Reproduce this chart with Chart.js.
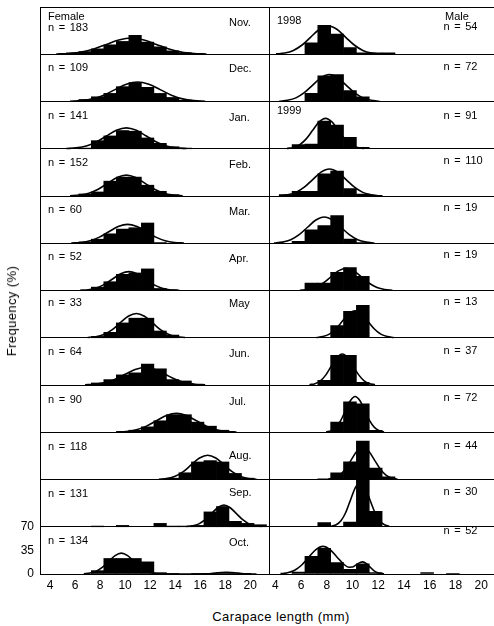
<!DOCTYPE html>
<html><head><meta charset="utf-8">
<script src="https://cdn.jsdelivr.net/npm/chart.js@4.4.1/dist/chart.umd.min.js"></script>
<style>
html,body{margin:0;padding:0;background:#fff;}
#wrap{position:relative;width:494px;height:626px;overflow:hidden;font-family:"Liberation Sans",Arial,sans-serif;color:#000;}
canvas{position:absolute;top:0;}
.lb{position:absolute;font-size:11px;line-height:12px;white-space:nowrap;word-spacing:1.5px;}
.tt{position:absolute;font-size:13px;line-height:14px;white-space:nowrap;letter-spacing:0.4px;}
</style></head><body>
<div id="wrap">
<canvas id="cf" width="270" height="600" style="left:0px"></canvas>
<canvas id="cm" width="226" height="600" style="left:268px"></canvas>
</div>
<script>
// ---- shared axes ----
const binCenters = [4.8,5.8,6.8,7.8,8.8,9.8,10.8,11.8,12.8,13.8,14.8,15.8,16.8,17.8,18.8,19.8,20.8];
const xTicks = [4,6,8,10,12,14,16,18,20];
const yTicks = [0,35,70];
const months = ['Nov.','Dec.','Jan.','Feb.','Mar.','Apr.','May','Jun.','Jul.','Aug.','Sep.','Oct.'];
const femaleN = [183,109,141,152,60,52,33,64,90,118,131,134];
const maleN = [54,72,91,110,19,19,13,37,72,44,30,52];

// ---- female histograms (% per 1-mm class, centres = binCenters) ----
const fNov = [0,2,4,8,14,19,28,18,11,5,2,0,0,0,0,0,0];
const fDec = [0,0,3,7,12,22,28,21,12,6,2,0,0,0,0,0,0];
const fJan = [0,0,1,12,19,27,26,16,8,3,1,0,0,0,0,0,0];
const fFeb = [0,0,3,6,22,28,28,16,7,2,0,0,0,0,0,0,0];
const fMar = [0,0,2,6,14,21,23,30,1,0,0,0,0,0,0,0,0];
const fApr = [0,0,0,5,13,24,26,32,3,1,0,0,0,0,0,0,0];
const fMay = [0,0,0,2,8,22,29,29,10,4,0,0,0,0,0,0,0];
const fJun = [0,0,0,3,8,15,18,31,24,8,6,1,0,0,0,0,0];
const fJul = [0,0,0,0,0,1,3,8,17,26,26,15,9,3,0,0,0];
const fAug = [0,0,0,0,0,0,0,0,0,2,10,26,28,26,9,2,0];
const fSep = [0,0,0,1,0,2,0,0,5,1,1,2,22,30,8,5,3];
const fOct = [0,0,0,5,23,23,23,18,2,1,0,1,1,2,1,0,0];

// ---- male histograms ----
const mNov = [0,0,17,43,30,10,2,2,2,0,0,0,0,0,0,0,0];
const mDec = [0,0,12,38,40,16,7,0,0,0,0,0,0,0,0,0,0];
const mJan = [0,6,7,41,35,17,2,0,0,0,0,0,0,0,0,0,0];
const mFeb = [2,7,7,33,37,11,3,1,0,0,0,0,0,0,0,0,0];
const mMar = [0,3,20,26,41,6,1,0,0,0,0,0,0,0,0,0,0];
const mApr = [0,0,11,11,27,34,21,0,0,0,0,0,0,0,0,0,0];
const mMay = [0,0,0,0,18,39,48,0,0,0,0,0,0,0,0,0,0];
const mJun = [0,0,0,7,44,44,4,0,0,0,0,0,0,0,0,0,0];
const mJul = [0,0,0,0,15,45,42,3,0,0,0,0,0,0,0,0,0];
const mAug = [0,0,0,1,10,26,57,17,4,0,0,0,0,0,0,0,0];
const mSep = [0,0,0,6,0,7,70,23,0,0,0,0,0,0,0,0,0];
const mOct = [0,3,26,38,17,7,15,2,0,0,0,2,0,1,0,0,0];

// ---- fitted curves: [length, %] ----
const fNovC = [[4.5,0.3],[5.5,1.1],[6.5,3.2],[7.5,7.8],[8.5,14.6],[9.5,21.2],[10.5,24],[11.5,21.2],[12.5,14.6],[13.5,7.8],[14.5,3.2],[15.5,1.1],[16.5,0.3]];
const fDecC = [[5.6,0.3],[6.5,1.3],[7.4,3.9],[8.3,9.4],[9.2,17.6],[10.1,25.6],[11,29],[11.9,25.6],[12.8,17.6],[13.7,9.4],[14.6,3.9],[15.5,1.3],[16.4,0.3]];
const fJanC = [[5.3,0.3],[6.1,1.4],[6.9,4.2],[7.7,10.1],[8.5,18.8],[9.3,27.3],[10.1,31],[10.9,27.3],[11.7,18.8],[12.5,10.1],[13.3,4.2],[14.1,1.4],[14.9,0.3]];
const fFebC = [[5.6,0.3],[6.35,1.4],[7.1,4.2],[7.85,10.1],[8.6,18.8],[9.35,27.3],[10.1,31],[10.85,27.3],[11.6,18.8],[12.35,10.1],[13.1,4.2],[13.85,1.4],[14.6,0.3]];
const fMarC = [[5.7,0.3],[6.45,1.2],[7.2,3.8],[7.95,9.1],[8.7,17],[9.45,24.7],[10.2,28],[10.95,24.7],[11.7,17],[12.45,9.1],[13.2,3.8],[13.95,1.2],[14.7,0.3]];
const fAprC = [[6.4,0.3],[7.05,1.2],[7.7,3.8],[8.35,9.1],[9,17],[9.65,24.7],[10.3,28],[10.95,24.7],[11.6,17],[12.25,9.1],[12.9,3.8],[13.55,1.2],[14.2,0.3]];
const fMayC = [[7,0.4],[7.65,1.6],[8.3,4.9],[8.95,11.7],[9.6,21.9],[10.25,31.8],[10.9,36],[11.55,31.8],[12.2,21.9],[12.85,11.7],[13.5,4.9],[14.15,1.6],[14.8,0.4]];
const fJunC = [[6.8,0.3],[7.6,1.1],[8.4,3.5],[9.2,8.5],[10,15.8],[10.8,22.9],[11.6,26],[12.4,22.9],[13.2,15.8],[14,8.5],[14.8,3.5],[15.6,1.1],[16.4,0.3]];
const fJulC = [[9.3,0.3],[10.1,1.2],[10.9,3.8],[11.7,9.1],[12.5,17],[13.3,24.7],[14.1,28],[14.9,24.7],[15.7,17],[16.5,9.1],[17.3,3.8],[18.1,1.2],[18.9,0.3]];
const fAugC = [[12.7,0.4],[13.35,1.6],[14,4.9],[14.65,11.7],[15.3,21.9],[15.95,31.8],[16.6,36],[17.25,31.8],[17.9,21.9],[18.55,11.7],[19.2,4.9],[19.85,1.6],[20.5,0.4]];
const fSepC = [[14.9,0.4],[15.4,1.4],[15.9,4.3],[16.4,10.4],[16.9,19.4],[17.4,28.2],[17.9,32],[18.4,28.2],[18.9,19.4],[19.4,10.4],[19.9,4.3],[20.4,1.4],[20.9,0.4]];
const fOctC = [[6.7,0.3],[7.2,1.4],[7.7,4.2],[8.2,10.1],[8.7,18.8],[9.2,27.3],[9.7,31],[10.2,27.3],[10.7,18.8],[11.2,10.1],[11.7,4.2],[12.2,1.4],[12.7,0.3],[15.7,0],[16.1,0.1],[16.5,0.3],[16.9,0.8],[17.3,1.5],[17.7,2.2],[18.1,2.5],[18.5,2.2],[18.9,1.5],[19.3,0.8],[19.7,0.3],[20.1,0.1],[20.5,0]];

const mNovC = [[4.05,0.5],[4.73,1.8],[5.4,5.7],[6.08,13.7],[6.75,25.5],[7.43,37],[8.1,42],[8.78,37],[9.45,25.5],[10.13,13.7],[10.8,5.7],[11.48,1.8],[12.15,0.5]];
const mDecC = [[4.3,0.4],[4.95,1.8],[5.6,5.4],[6.25,13],[6.9,24.3],[7.55,35.3],[8.2,40],[8.85,35.3],[9.5,24.3],[10.15,13],[10.8,5.4],[11.45,1.8],[12.1,0.4]];
const mJanC = [[4.9,0.5],[5.4,2],[5.9,6.1],[6.4,14.6],[6.9,27.3],[7.4,39.7],[7.9,45],[8.4,39.7],[8.9,27.3],[9.4,14.6],[9.9,6.1],[10.4,2],[10.9,0.5]];
const mFebC = [[4.3,0.4],[4.95,1.8],[5.6,5.4],[6.25,13],[6.9,24.3],[7.55,35.3],[8.2,40],[8.85,35.3],[9.5,24.3],[10.15,13],[10.8,5.4],[11.45,1.8],[12.1,0.4]];
const mMarC = [[3.9,0.4],[4.55,1.7],[5.2,5.3],[5.85,12.7],[6.5,23.7],[7.15,34.4],[7.8,39],[8.45,34.4],[9.1,23.7],[9.75,12.7],[10.4,5.3],[11.05,1.7],[11.7,0.4]];
const mAprC = [[5.9,0.4],[6.5,1.5],[7.1,4.5],[7.7,10.7],[8.3,20],[8.9,29.1],[9.5,33],[10.1,29.1],[10.7,20],[11.3,10.7],[11.9,4.5],[12.5,1.5],[13.1,0.4]];
const mMayC = [[7.2,0.4],[7.7,1.8],[8.2,5.4],[8.7,13],[9.2,24.3],[9.7,35.3],[10.2,40],[10.7,35.3],[11.2,24.3],[11.7,13],[12.2,5.4],[12.7,1.8],[13.2,0.4]];
const mJunC = [[6.65,0.5],[7.08,2],[7.5,6.2],[7.93,15],[8.35,27.9],[8.78,40.6],[9.2,46],[9.63,40.6],[10.05,27.9],[10.48,15],[10.9,6.2],[11.33,2],[11.75,0.5]];
const mJulC = [[7.95,0.6],[8.33,2.3],[8.7,7.2],[9.08,17.2],[9.45,32.2],[9.83,46.7],[10.2,53],[10.58,46.7],[10.95,32.2],[11.33,17.2],[11.7,7.2],[12.08,2.3],[12.45,0.6]];
const mAugC = [[8.1,0.5],[8.55,2.1],[9,6.5],[9.45,15.6],[9.9,29.1],[10.35,42.3],[10.8,48],[11.25,42.3],[11.7,29.1],[12.15,15.6],[12.6,6.5],[13.05,2.1],[13.5,0.5]];
const mSepC = [[8.35,0.7],[8.73,2.9],[9.1,8.9],[9.48,21.5],[9.85,40.1],[10.23,58.2],[10.6,66],[10.98,58.2],[11.35,40.1],[11.73,21.5],[12.1,8.9],[12.48,2.9],[12.85,0.7]];
const mOctC = [[4.4,0.5],[4.95,1.8],[5.5,5.5],[6.05,13.3],[6.6,24.9],[7.15,36.2],[7.7,41],[8.25,36.2],[8.8,24.9],[9.35,14],[9.7,10.1],[9.98,10.3],[10.25,13.1],[10.53,16.5],[10.8,17.9],[11.08,15.4],[11.35,10.5],[11.63,5.5],[11.9,2.3],[12.18,0.7],[12.45,0.2]];

const femaleRows = [[fNov,fNovC],[fDec,fDecC],[fJan,fJanC],[fFeb,fFebC],[fMar,fMarC],[fApr,fAprC],[fMay,fMayC],[fJun,fJunC],[fJul,fJulC],[fAug,fAugC],[fSep,fSepC],[fOct,fOctC]];
const maleRows = [[mNov,mNovC],[mDec,mDecC],[mJan,mJanC],[mFeb,mFebC],[mMar,mMarC],[mApr,mAprC],[mMay,mMayC],[mJun,mJunC],[mJul,mJulC],[mAug,mAugC],[mSep,mSepC],[mOct,mOctC]];

const ROW_SPAN = 70; // each panel row spans 0-70 %

function buildDatasets(rows) {
  const ds = [];
  rows.forEach((row, r) => {
    const off = (rows.length - 1 - r) * ROW_SPAN;
    const bars = [];
    row[0].forEach((v, i) => { if (v > 0) bars.push({x: binCenters[i], y: [off, off + v]}); });
    ds.push({type: 'bar', data: bars, backgroundColor: '#000', borderWidth: 0,
             barPercentage: 1, categoryPercentage: 1, grouped: false, order: 2});
    ds.push({type: 'line', data: row[1].map(p => ({x: p[0], y: off + p[1]})),
             borderColor: '#000', borderWidth: 1.6, pointRadius: 0, fill: false,
             cubicInterpolationMode: 'monotone', order: 1});
  });
  return ds;
}

function makeChart(id, rows, xmin, xmax, showY) {
  const total = ROW_SPAN * rows.length;
  return new Chart(document.getElementById(id), {
    type: 'bar',
    data: {datasets: buildDatasets(rows)},
    options: {
      responsive: false, animation: false, events: [], devicePixelRatio: 1,
      layout: {padding: {top: 7, right: showY ? 1 : 0, left: 0, bottom: 0}},
      plugins: {legend: {display: false}, tooltip: {enabled: false}},
      scales: {
        x: {
          type: 'linear', min: xmin, max: xmax, offset: false,
          afterBuildTicks: s => { s.ticks = xTicks.map(v => ({value: v})); },
          afterFit: s => { s.height = 26; },
          grid: {display: false, drawTicks: false},
          border: {display: true, color: '#000', width: 1},
          ticks: {padding: 4, color: '#000', autoSkip: false, maxRotation: 0,
                  font: {family: 'Liberation Sans', size: 12}, callback: v => String(v)}
        },
        y: {
          type: 'linear', min: 0, max: total,
          afterBuildTicks: s => {
            const t = [{value: 0}, {value: 35}];
            for (let v = ROW_SPAN; v <= total; v += ROW_SPAN) t.push({value: v});
            s.ticks = t;
          },
          afterFit: s => { s.width = showY ? 40 : 1; },
          grid: {drawTicks: false, lineWidth: 1,
                 color: c => (c.tick && c.tick.value % ROW_SPAN === 0) ? '#000' : 'rgba(0,0,0,0)'},
          border: {display: true, color: '#000', width: 1},
          ticks: {display: showY, padding: 6, color: '#000', autoSkip: false,
                  font: {family: 'Liberation Sans', size: 12, lineHeight: 0.1},
                  callback: v => yTicks.includes(v) ? String(v) : ''}
        }
      }
    }
  });
}

makeChart('cf', femaleRows, 3.2, 21.5, true);
makeChart('cm', maleRows, 3.54, 21.0, false);

// ---- text annotations ----
const wrap = document.getElementById('wrap');
function addText(text, x, yc, cls) {
  const d = document.createElement('div');
  d.className = cls || 'lb';
  d.textContent = text;
  d.style.left = x + 'px';
  d.style.top = (yc - 6) + 'px';
  wrap.appendChild(d);
  return d;
}
const monthY = [22,68,116.5,164,210.5,258,303,352.5,401,455,492,541.5];
const femaleNY = [27,67,115,161.5,208.5,256,302,350.5,398.5,445.5,492.5,539.5];
const maleNY = [26,66,115,160,206.5,254,300.5,349.5,396.5,445,490.5,529.5];
months.forEach((m, i) => addText(m, 229, monthY[i]));
femaleN.forEach((n, i) => addText('n = ' + n, 48, femaleNY[i]));
maleN.forEach((n, i) => addText('n = ' + n, 443.5, maleNY[i]));
addText('Female', 48, 16);
addText('Male', 445, 16);
addText('1998', 277, 19.5);
addText('1999', 277, 110);

const yt = document.createElement('div');
yt.className = 'tt'; yt.textContent = 'Frequency (%)';
yt.style.left = '12px'; yt.style.top = '311px';
yt.style.transform = 'translate(-50%,-50%) rotate(-90deg)';
wrap.appendChild(yt);
const xt = document.createElement('div');
xt.className = 'tt'; xt.textContent = 'Carapace length (mm)';
xt.style.left = '281px'; xt.style.top = '617px';
xt.style.transform = 'translate(-50%,-50%)';
wrap.appendChild(xt);
</script>
</body></html>
